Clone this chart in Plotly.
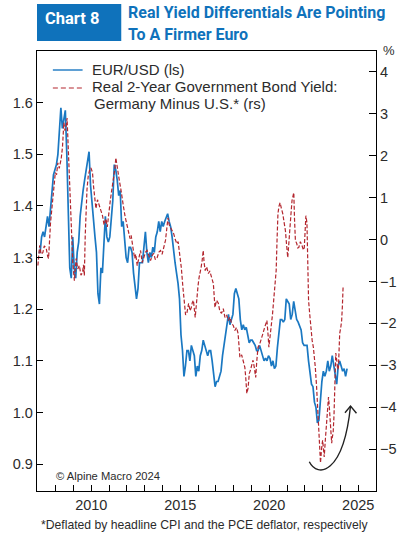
import plotly.graph_objects as go

# EUR/USD, monthly averages Jan 2007 .. May 2024 (left scale)
eurusd_start_year = 2007
eurusd = [
    1.31, 1.31, 1.34, 1.35, 1.34, 1.36, 1.38, 1.36, 1.40, 1.43, 1.46, 1.47,
    1.48, 1.50, 1.56, 1.59, 1.55, 1.57, 1.585, 1.50, 1.40, 1.28, 1.26, 1.34,
    1.28, 1.26, 1.31, 1.33, 1.38, 1.41, 1.43, 1.45, 1.47, 1.49, 1.505, 1.44,
    1.40, 1.36, 1.34, 1.31, 1.23, 1.21, 1.28, 1.27, 1.33, 1.38, 1.34, 1.33,
    1.34, 1.37, 1.41, 1.48, 1.47, 1.45, 1.42, 1.43, 1.36, 1.37, 1.33, 1.30,
    1.29, 1.32, 1.32, 1.31, 1.27, 1.25, 1.22, 1.24, 1.29, 1.29, 1.29, 1.32,
    1.35, 1.31, 1.29, 1.31, 1.30, 1.32, 1.31, 1.34, 1.35, 1.37, 1.35, 1.37,
    1.36, 1.37, 1.38, 1.385, 1.37, 1.36, 1.34, 1.31, 1.29, 1.27, 1.25, 1.22,
    1.15, 1.12, 1.07, 1.09, 1.12, 1.12, 1.10, 1.13, 1.12, 1.11, 1.07, 1.09,
    1.08, 1.11, 1.12, 1.14, 1.13, 1.12, 1.11, 1.12, 1.12, 1.10, 1.07, 1.05,
    1.06, 1.06, 1.07, 1.08, 1.11, 1.13, 1.16, 1.18, 1.19, 1.17, 1.18, 1.19,
    1.23, 1.24, 1.23, 1.22, 1.18, 1.16, 1.17, 1.16, 1.165, 1.15, 1.135, 1.14,
    1.14, 1.135, 1.13, 1.12, 1.12, 1.13, 1.12, 1.11, 1.10, 1.105, 1.10, 1.11,
    1.105, 1.09, 1.10, 1.085, 1.09, 1.125, 1.15, 1.18, 1.18, 1.175, 1.18, 1.22,
    1.215, 1.21, 1.18, 1.19, 1.215, 1.20, 1.18, 1.175, 1.165, 1.16, 1.135, 1.13,
    1.13, 1.13, 1.10, 1.08, 1.055, 1.05, 1.02, 1.01, 0.98, 0.985, 1.03, 1.06,
    1.08, 1.07, 1.08, 1.10, 1.08, 1.09, 1.11, 1.09, 1.07, 1.055, 1.09, 1.10,
    1.09, 1.08, 1.085, 1.07, 1.085,
]
eurusd_x = [eurusd_start_year + (i + 0.5) / 12 for i in range(len(eurusd))]

# real 2-year yield, Germany minus U.S., % (right scale)
yield_dates = [
    2007.00, 2007.06, 2007.10, 2007.18, 2007.28, 2007.36, 2007.47, 2007.55, 2007.60, 2007.71,
    2007.78, 2007.84, 2007.92, 2007.98, 2008.05, 2008.12, 2008.20, 2008.31, 2008.38, 2008.46,
    2008.52, 2008.59, 2008.64, 2008.68, 2008.76, 2008.82, 2008.87, 2008.96, 2009.05, 2009.10,
    2009.15, 2009.24, 2009.33, 2009.42, 2009.51, 2009.56, 2009.61, 2009.66, 2009.70, 2009.76,
    2009.83, 2009.90, 2009.98, 2010.07, 2010.12, 2010.17, 2010.26, 2010.35, 2010.45, 2010.54,
    2010.63, 2010.72, 2010.82, 2010.90, 2011.00, 2011.06, 2011.13, 2011.20, 2011.28, 2011.33,
    2011.38, 2011.44, 2011.51, 2011.58, 2011.66, 2011.72, 2011.80, 2011.90, 2011.99, 2012.08,
    2012.18, 2012.24, 2012.30, 2012.38, 2012.44, 2012.50, 2012.58, 2012.66, 2012.73, 2012.77,
    2012.86, 2012.96, 2013.05, 2013.14, 2013.24, 2013.33, 2013.42, 2013.51, 2013.60, 2013.70,
    2013.80, 2013.89, 2013.98, 2014.07, 2014.17, 2014.24, 2014.31, 2014.38, 2014.45, 2014.54,
    2014.63, 2014.72, 2014.81, 2014.88, 2014.95, 2015.06, 2015.15, 2015.24, 2015.30, 2015.37,
    2015.42, 2015.47, 2015.55, 2015.62, 2015.68, 2015.74, 2015.84, 2015.93, 2016.00, 2016.06,
    2016.12, 2016.17, 2016.23, 2016.29, 2016.34, 2016.40, 2016.48, 2016.58, 2016.66, 2016.77,
    2016.86, 2016.95, 2017.04, 2017.14, 2017.22, 2017.32, 2017.42, 2017.51, 2017.60, 2017.70,
    2017.80, 2017.88, 2017.98, 2018.07, 2018.16, 2018.25, 2018.30, 2018.35, 2018.45, 2018.53,
    2018.63, 2018.68, 2018.74, 2018.81, 2018.88, 2018.94, 2019.02, 2019.09, 2019.16, 2019.24,
    2019.30, 2019.37, 2019.46, 2019.55, 2019.64, 2019.74, 2019.80, 2019.87, 2019.94, 2019.98,
    2020.05, 2020.11, 2020.18, 2020.25, 2020.32, 2020.39, 2020.44, 2020.49, 2020.55, 2020.61,
    2020.68, 2020.76, 2020.84, 2020.91, 2020.97, 2021.04, 2021.10, 2021.17, 2021.22, 2021.28,
    2021.33, 2021.38, 2021.42, 2021.47, 2021.55, 2021.60, 2021.66, 2021.75, 2021.84, 2021.92,
    2021.97, 2022.02, 2022.06, 2022.12, 2022.16, 2022.21, 2022.28, 2022.34, 2022.41, 2022.48,
    2022.54, 2022.59, 2022.66, 2022.72, 2022.77, 2022.81, 2022.85, 2022.88, 2022.94, 2023.00,
    2023.05, 2023.09, 2023.15, 2023.22, 2023.28, 2023.33, 2023.37, 2023.40, 2023.46, 2023.51,
    2023.55, 2023.59, 2023.64, 2023.68, 2023.74, 2023.80, 2023.84, 2023.89, 2023.96, 2024.02,
    2024.07, 2024.11, 2024.15, 2024.20,
]
yield_diff = [
    -0.62, -0.30, -0.14, -0.35, -0.31, -0.15, -0.21, -0.40, -0.45, 0.40,
    0.70, 1.12, 1.35, 1.60, 1.55, 1.83, 1.70, 1.93, 2.20, 2.79,
    2.60, 2.71, 2.90, 2.48, 1.45, 0.70, 0.26, -0.55, -0.98, -0.60,
    -0.45, -0.70, -0.62, -0.85, -0.79, -0.60, -0.86, 0.10, 0.81, 1.20,
    1.52, 1.65, 1.71, 1.60, 1.30, 1.05, 0.74, 0.95, 0.81, 0.65,
    0.57, 0.35, 0.50, 0.30, 0.74, 0.90, 1.12, 1.30, 1.52, 1.70,
    1.95, 1.75, 1.60, 1.40, 1.21, 1.00, 0.81, 0.55, 0.40, 0.25,
    0.02, 0.10, -0.14, -0.30, -0.45, -0.35, -0.62, -0.45, -0.31, -0.26,
    -0.55, -0.43, -0.30, -0.26, -0.40, -0.50, -0.38, -0.33, -0.48, -0.43,
    -0.30, -0.26, -0.35, -0.19, -0.02, 0.25, 0.52, 0.35, 0.29, 0.20,
    0.14, 0.00, -0.10, -0.05, -0.26, -0.67, -1.14, -1.52, -1.80, -1.76,
    -1.60, -1.52, -1.70, -1.62, -1.50, -1.45, -1.86, -1.29, -1.10, -0.90,
    -0.80, -0.67, -0.50, -0.26, -0.55, -0.74, -0.65, -0.81, -0.75, -0.90,
    -1.05, -1.62, -1.45, -1.52, -1.70, -1.76, -1.65, -1.86, -1.80, -1.93,
    -1.85, -2.00, -2.05, -2.17, -2.10, -2.24, -2.50, -2.81, -2.75, -2.88,
    -3.05, -3.29, -3.67, -3.55, -3.20, -3.12, -3.00, -2.88, -3.05, -3.29,
    -2.90, -2.57, -2.50, -2.40, -2.25, -2.10, -2.00, -1.93, -2.30, -2.57,
    -2.30, -2.10, -1.80, -1.45, -1.10, -0.74, 0.00, 0.62, 0.80, 0.88,
    0.75, 0.62, 0.40, 0.21, -0.10, -0.43, -0.10, 0.21, 0.60, 0.93,
    1.00, 1.12, 0.50, -0.02, -0.10, -0.20, -0.19, -0.05, -0.14, -0.25,
    -0.19, 0.10, 0.57, 0.40, -0.19, -1.45, -1.80, -2.10, -2.40, -2.57,
    -2.80, -3.05, -3.50, -4.00, -4.40, -4.71, -5.10, -5.33, -5.00, -4.79,
    -5.00, -5.19, -4.80, -4.31, -4.00, -3.76, -3.95, -4.14, -4.50, -4.86,
    -4.70, -4.62, -4.20, -3.52, -2.71, -2.90, -3.10, -3.05, -2.24, -2.10,
    -1.93, -1.60, -1.14, -1.10,
]

year_ticks = list(range(2008, 2026))
year_labels = [str(y) if y % 5 == 0 else "" for y in year_ticks]
left_ticks = [0.9, 1.0, 1.1, 1.2, 1.3, 1.4, 1.5, 1.6]
right_ticks = [-5, -4, -3, -2, -1, 0, 1, 2, 3, 4]

BLUE = "#1a78c2"
RED = "#b3262e"
TITLE_BLUE = "#0f72bb"
INK = "#2b2b2b"
FONT = "Liberation Sans, Arial, sans-serif"
TITLE_FONT = "Roboto, Liberation Sans, sans-serif"

W, H = 409, 536
L, R, T, B = 37, 30, 51, 45


def px(x):
    # pixel column -> paper x
    return (x - L) / (W - L - R)


def py(y):
    # pixel row -> paper y
    return (H - B - y) / (H - T - B)


def note(text, x, y, size, color=INK, family=FONT, xanchor="left"):
    fig.add_annotation(x=px(x), y=py(y), xref="paper", yref="paper", text=text,
                       showarrow=False, xanchor=xanchor, yanchor="middle",
                       font=dict(family=family, size=size, color=color))


fig = go.Figure()
fig.add_trace(go.Scatter(
    x=eurusd_x, y=eurusd, mode="lines", yaxis="y",
    line=dict(color=BLUE, width=1.7), showlegend=False,
))
fig.add_trace(go.Scatter(
    x=yield_dates, y=yield_diff, mode="lines", yaxis="y2",
    line=dict(color=RED, width=1.2, dash="4px,2px"), showlegend=False,
))

axis_common = dict(
    showgrid=False, zeroline=False, showline=True, linecolor="black", linewidth=1.3,
    ticks="inside", tickcolor="black", tickwidth=1.2,
    tickfont=dict(family=FONT, size=14.5, color=INK),
)

fig.update_layout(
    width=W, height=H,
    margin=dict(l=L, r=R, t=T, b=B),
    paper_bgcolor="white", plot_bgcolor="white",
    xaxis=dict(axis_common, range=[2006.95, 2026.0], tickvals=year_ticks,
               ticktext=year_labels, ticklen=6, mirror=True),
    yaxis=dict(axis_common, range=[0.848, 1.70], tickvals=left_ticks,
               ticktext=[f"{v:.1f}" for v in left_ticks], ticklen=6),
    yaxis2=dict(axis_common, range=[-6.0, 4.5], tickvals=right_ticks,
                overlaying="y", side="right", ticklen=7),
)

# title block
fig.add_shape(type="rect", xref="paper", yref="paper",
              x0=px(37), x1=px(122), y0=py(41), y1=py(4),
              fillcolor=TITLE_BLUE, line=dict(width=0), layer="above")
note("<b>Chart 8</b>", 43, 18, 16.5, color="white", family=TITLE_FONT)
note("<b>Real Yield Differentials Are Pointing</b>", 127, 12, 16, color=TITLE_BLUE, family=TITLE_FONT)
note("<b>To A Firmer Euro</b>", 127, 34, 16, color=TITLE_BLUE, family=TITLE_FONT)

note("%", 392, 50, 13, xanchor="center")

# legend
fig.add_shape(type="line", xref="paper", yref="paper", x0=px(53), x1=px(83), y0=py(70), y1=py(70),
              line=dict(color=BLUE, width=1.4))
fig.add_shape(type="line", xref="paper", yref="paper", x0=px(53), x1=px(83), y0=py(88), y1=py(88),
              line=dict(color=RED, width=1.2, dash="5px,3px"))
note("EUR/USD (ls)", 90, 69, 15)
note("Real 2-Year Government Bond Yield:", 90, 87, 15)
note("Germany Minus U.S.* (rs)", 92, 103, 15)

note("© Alpine Macro 2024", 54, 476, 11.2)
note("*Deflated by headline CPI and the PCE deflator, respectively", 39, 525, 12.2)

# curved arrow
curve = (f"M {px(311.7)},{py(461.7)} C {px(320)},{py(478)} {px(346)},{py(475)} "
         f"{px(353.3)},{py(406)}")
fig.add_shape(type="path", xref="paper", yref="paper", path=curve,
              line=dict(color="#222", width=1.4))
head = f"M {px(347.7)},{py(412.7)} L {px(353.3)},{py(406)} L {px(359.3)},{py(413.3)}"
fig.add_shape(type="path", xref="paper", yref="paper", path=head,
              line=dict(color="#222", width=1.4))

fig.write_html("out.html", config={"displayModeBar": False},
               post_script="document.body.style.margin = '0';")
